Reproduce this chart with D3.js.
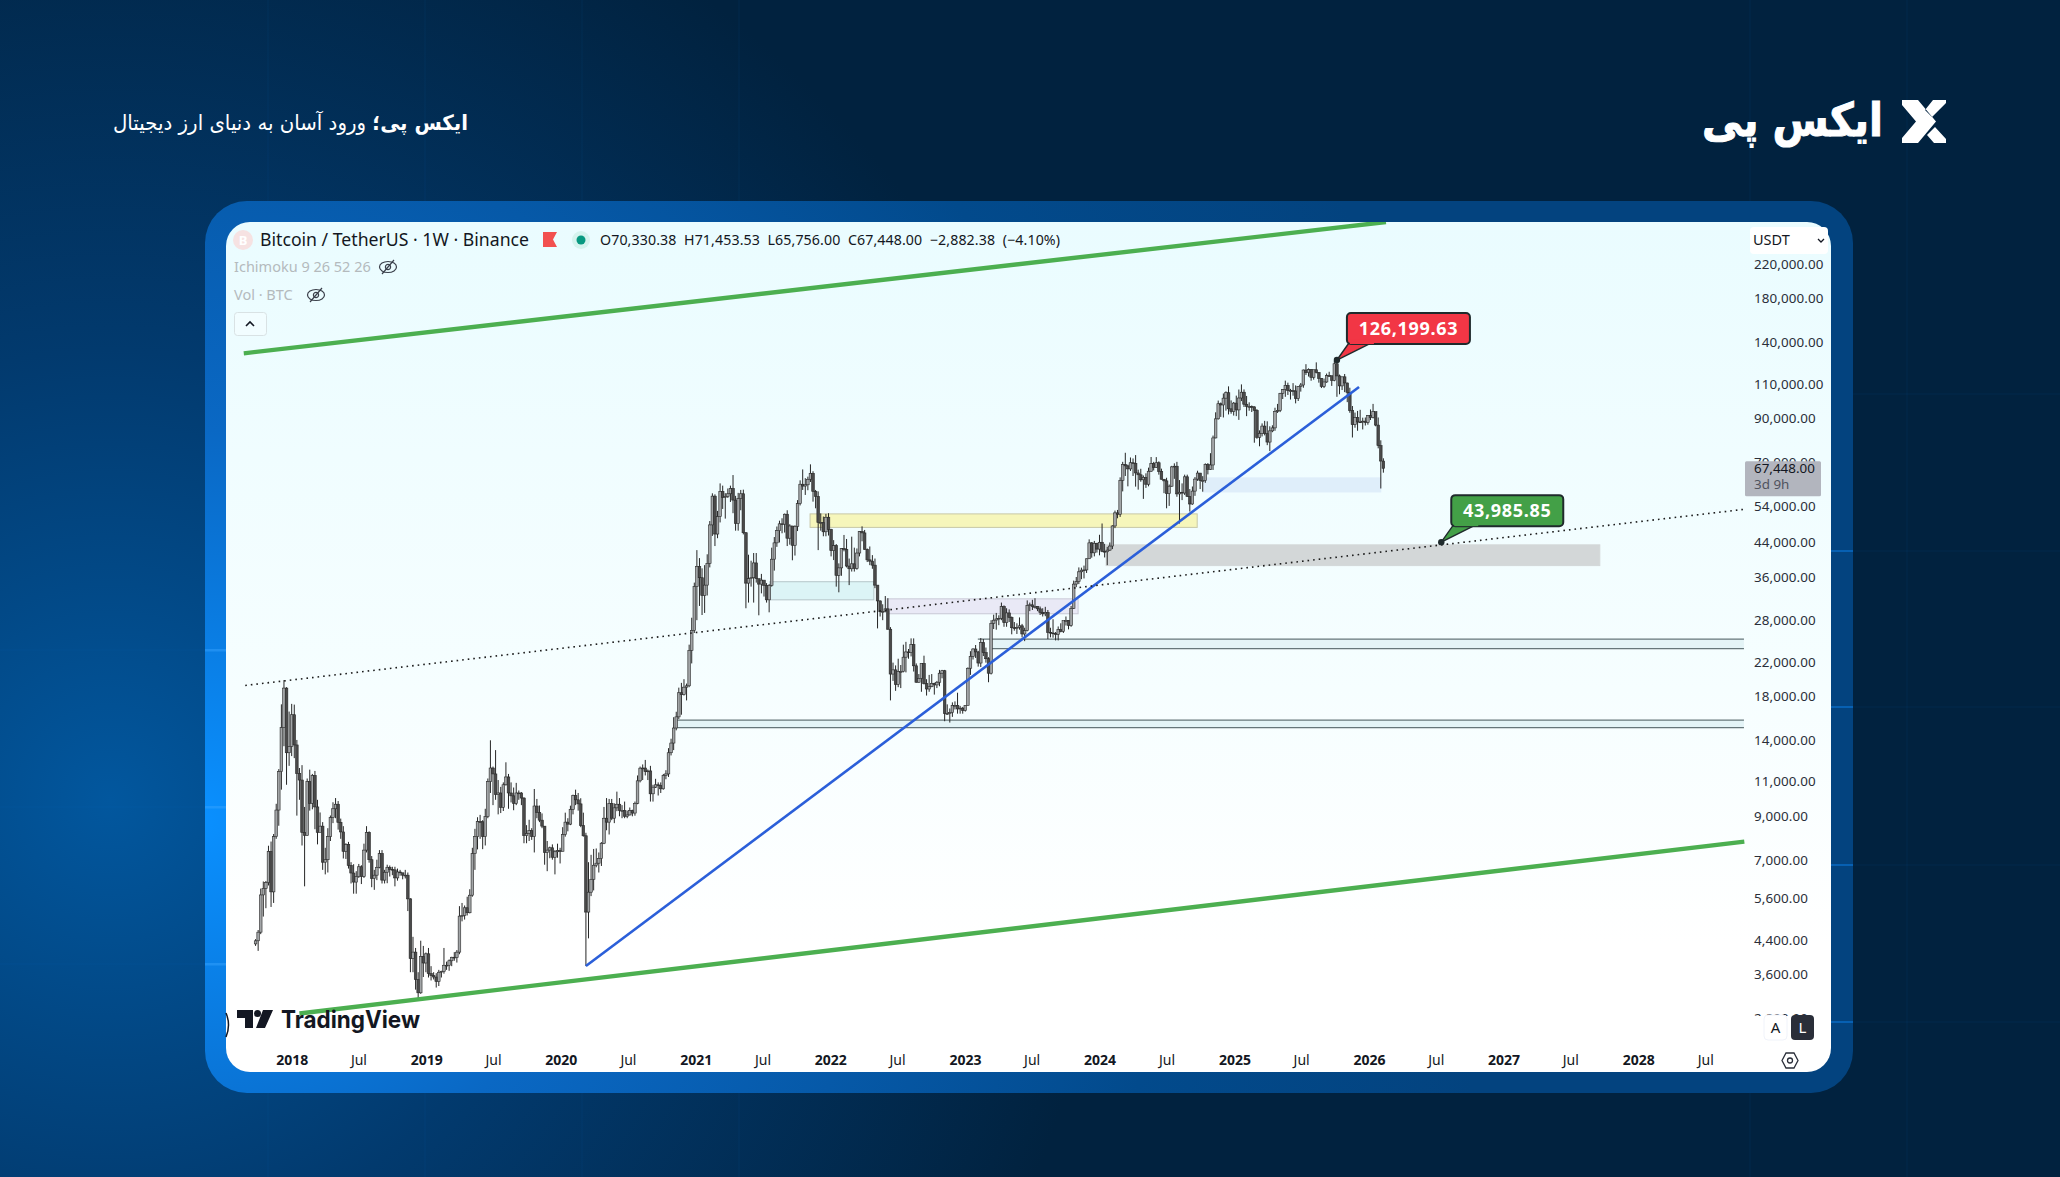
<!DOCTYPE html>
<html lang="fa">
<head>
<meta charset="UTF-8">
<title>Bitcoin / TetherUS 1W</title>
<script src="https://d3js.org/d3.v7.min.js"></script>
<style>
  html, body { margin: 0; padding: 0; background: #01223f; overflow: hidden; }
  svg { display: block; }
  text { font-family: "Noto Sans", sans-serif; }
  .y-axis text { font-size: 13.4px; fill: #2a2e39; letter-spacing: 0.1px; }
  .x-axis text { font-size: 14px; fill: #131722; }
  .x-axis text.year { font-weight: 700; }
  .y-axis path, .x-axis path { display: none; }
</style>
</head>
<body>
<div id="chart"></div>
<script>
// weekly bars as [high, low, close], each list starts on the monday in weekStarts
const w2017 = [[4420,4250,4378],[4660,4130,4602],[5922,4550,5709],[6171,5037,5930],[6189,5286,6130],[7590,6030,7345],[7776,5325,5811],[8123,5450,7999],[9675,7900,9330],[11825,8520,11650],[17204,10500,15034],[19798,13500,18900],[19000,10800,13000],[16500,12050,13480]];
const w2018 = [[17250,12750,16200],[17176,12600,13600],[14000,9035,11530],[11900,9900,11100],[12100,7600,8200],[9500,6000,8060],[11200,8050,11000],[11788,9300,9700],[11500,9370,11400],[11700,8350,9500],[9900,7650,8200],[9200,8250,8500],[8700,6600,6900],[7500,6430,7000],[8400,6500,8000],[9040,7800,8930],[9760,8650,9400],[10000,8900,9650],[9830,8330,8690],[8880,7900,8220],[8500,7050,7350],[7700,7030,7650],[7760,6650,6770],[6900,6100,6480],[6820,5750,6150],[6550,5750,6350],[6830,6300,6720],[6780,6080,6350],[7680,6300,7400],[8500,7300,8200],[8250,6880,7000],[7150,5970,6280],[6600,5880,6400],[7000,6220,6700],[7400,6660,7250],[7400,6100,6220],[6600,6100,6510],[6800,6110,6700],[6770,6350,6620],[6720,6400,6600],[6720,6000,6300],[6650,6200,6520],[6600,6380,6490],[6450,6250,6400],[6600,6280,6400],[6500,5200,5580],[5600,3650,3950],[4480,3650,4100],[4200,3300,3500],[3650,3130,3240],[4380,3220,4000],[4250,3550,3850]];
const w2019 = [[4090,3650,4060],[4200,3540,3620],[3780,3480,3580],[3650,3500,3550],[3630,3340,3460],[3700,3370,3650],[3680,3540,3670],[4200,3620,3800],[3880,3700,3800],[3930,3680,3900],[3990,3780,3980],[4100,3900,3970],[4150,3860,4100],[5350,4050,5050],[5450,4900,5070],[5370,4950,5300],[5650,5070,5150],[5900,5130,5700],[7500,5650,7250],[8370,6600,8000],[8950,7430,8730],[9074,7900,8720],[8800,7440,8000],[9400,7600,8980],[11200,8900,11000],[13970,10300,11900],[12000,9600,11500],[13200,9900,10200],[11100,9100,10300],[10670,9170,9480],[10950,9280,10800],[12300,10750,11300],[11500,9400,10300],[10950,9750,10130],[10630,9320,9700],[10920,9600,10300],[10450,9900,10300],[10350,9600,10000],[10050,7700,8050],[8550,7700,8150],[8820,7800,8280],[8400,7850,8000],[10540,7300,9550],[9950,8900,9200],[9580,8700,8800],[9150,8400,8500],[8500,6800,7300],[7800,6550,7400],[7550,7060,7500],[7650,7000,7100],[7400,6430,7330],[7680,7080,7380]];
const w2020 = [[7500,6850,7350],[8450,7350,8100],[9190,8000,8700],[8900,8250,8600],[9570,8550,9370],[10200,9100,10150],[10500,9600,9900],[10300,9300,9670],[9990,8450,8530],[9190,8000,8040],[8180,3782,5170],[6900,4440,5800],[7200,5670,6250],[7450,5860,6780],[7470,6700,6860],[7300,6500,7050],[7750,6750,7700],[9500,7660,8900],[10000,8300,8700],[9950,8100,9700],[9950,8800,8900],[9700,8650,9450],[10380,9270,9650],[10000,9000,9300],[9600,8900,9300],[9800,8900,9000],[9300,8900,9070],[9470,9040,9300],[9350,9000,9170],[9800,9030,9700],[11400,9650,11050],[12000,10950,11890],[12150,11100,11900],[12470,11400,11650],[11800,11100,11700],[12050,9800,10250],[10800,9800,10650],[11180,10600,10800],[10950,10150,10750],[10950,10300,10550],[11500,10500,11400],[11750,11150,11500],[13350,11300,13000],[14100,12800,13750],[15970,13200,15000],[16480,14800,16000],[18950,15800,18400],[19480,16200,18200],[19900,18100,19000],[19400,17600,19150],[24300,19000,23500],[28400,21800,26400]];
const w2021 = [[34800,26000,34000],[42000,28000,38200],[40100,30400,35800],[37800,28850,32300],[38500,29200,34300],[41000,32300,38900],[49700,38000,48600],[58350,45600,57400],[58000,43000,46100],[52700,45000,51000],[61800,49300,59000],[61000,53300,57000],[58400,50400,57300],[60000,56800,58200],[61000,55500,60000],[64850,52000,56100],[57500,47000,49000],[58500,47000,56600],[59500,52900,58200],[59600,46000,46450],[46600,30000,34700],[40900,31000,35600],[39500,34000,35800],[41300,31000,39000],[41300,34800,35600],[35500,28800,34500],[36600,32700,35300],[35100,32100,34250],[34700,31000,31500],[34500,29300,34250],[42600,34000,39850],[45300,37300,43800],[48150,42800,47000],[49800,43900,48900],[50500,46300,48800],[51900,46500,51700],[52900,43000,45000],[48800,43350,48300],[48000,39600,43200],[48500,40700,48200],[56100,46900,54950],[62900,54400,61500],[67000,59500,60850],[63700,57800,61300],[64250,59400,63300],[69000,62300,65500],[66300,55600,59000],[59500,53500,57300],[59000,42000,49300],[51950,47000,49300],[51000,45500,46700],[51800,45500,50800]];
const w2022 = [[52000,45700,47300],[47500,40500,41860],[44500,39650,43100],[43500,34000,36300],[38900,32900,37900],[42500,36200,42400],[45850,41700,42200],[44800,38000,38300],[40000,34300,37700],[45400,37100,38800],[42600,37100,37800],[42400,37500,41300],[46900,40500,46800],[48200,44200,46400],[47200,42100,42200],[42400,39200,39700],[42900,38500,39400],[40800,37700,38500],[40000,33700,34300],[34200,26700,31300],[31400,28600,29400],[30700,28000,29450],[32200,29300,29900],[31800,26500,26570],[26900,17600,20500],[21900,19700,21000],[21550,18600,19300],[22400,19000,20800],[21600,18900,20800],[24300,20700,22600],[24700,20700,23300],[23700,22400,23200],[25200,22700,24300],[25200,20800,21500],[21800,19500,19550],[20500,19500,20000],[21800,18500,21800],[22800,19300,19400],[19900,18100,18800],[20400,18500,19050],[20500,19000,19420],[19500,18200,19250],[19700,18900,19550],[21000,19100,20600],[21000,20000,20900],[21000,15600,16300],[17200,16200,16300],[16800,15480,16400],[17400,16000,17100],[17500,16700,17100],[18400,16300,16750],[17050,16300,16830]];
const w2023 = [[16950,16300,16600],[17100,16500,17100],[21300,17100,21200],[23400,20400,22700],[23800,22300,23700],[24250,22500,23300],[23450,21400,21850],[25250,21350,24600],[25100,22750,23200],[23900,21900,22400],[22600,19550,20600],[28000,20450,27500],[28900,26600,28000],[29200,26500,28200],[28800,27200,28300],[31000,28000,30300],[30500,26950,27600],[30000,26950,29200],[29800,27700,28450],[28600,25800,26800],[27700,26350,26750],[27500,25850,26850],[28450,26500,27100],[27400,25350,25850],[26800,24800,26350],[31400,26250,30500],[31000,29500,30600],[31500,29700,30300],[31800,29950,30300],[30350,29500,29900],[30300,28850,29300],[30000,28600,29050],[30250,28650,29280],[29700,25100,26100],[26800,25350,26000],[28150,25300,25900],[26150,24900,25800],[27000,24900,26500],[27500,26100,26250],[27300,26000,27950],[28600,27150,27950],[28000,26550,27150],[30400,26950,29990],[35200,29900,34500],[35950,33900,35000],[38000,34500,37050],[37950,35500,37400],[38400,35650,37450],[40000,36800,39950],[44700,39950,43800],[44000,40200,41350],[44300,40500,43700],[43800,41400,42250]];
const w2024 = [[45900,40750,43950],[49000,41500,41700],[43550,40250,41600],[42800,38500,42000],[43900,41800,43000],[48500,42250,48300],[52800,47700,52100],[53000,50500,51700],[64000,50900,62900],[70000,59000,68950],[73777,64500,68400],[68900,60750,67200],[71800,66400,69650],[71400,64500,69400],[72800,60650,65650],[66900,59600,64950],[67250,62400,63100],[64700,56500,64000],[65500,60200,61500],[67700,60750,66300],[72000,66100,69300],[70000,66600,67750],[71950,67600,69650],[70200,65000,66200],[67300,63200,63300],[63350,58400,62700],[63850,53500,58250],[61400,54250,60800],[68400,60600,68000],[69400,63450,68250],[70000,57200,58150],[63000,49000,58700],[61800,56100,58450],[65000,57800,64200],[65000,57200,57300],[59800,52500,54850],[60700,54600,59100],[64100,57500,63350],[66500,62700,65600],[65500,59800,62800],[64450,58900,62850],[69400,62000,69000],[69500,65100,67000],[73600,66800,68750],[81500,66800,80400],[93250,80200,89800],[99800,89400,98000],[98700,90800,97300],[104000,90500,101200],[105250,94150,104450],[108350,92100,95150],[99900,92500,93700]];
const w2025 = [[99000,91500,98350],[102700,91200,94550],[106400,89250,101300],[109600,99500,104750],[106450,96150,97700],[102500,91200,96450],[98800,94100,96450],[97000,93400,96250],[96500,78200,94250],[95000,80000,80700],[84000,76600,82550],[87450,81100,86100],[88750,81600,82400],[88500,77100,78500],[86000,74500,83750],[86500,83100,85200],[95750,83800,93750],[97900,92900,94300],[104350,93350,104100],[106700,100700,106450],[112000,102000,109000],[110700,103100,105700],[106800,100400,105700],[110400,102650,105500],[108950,98200,100950],[108500,99550,108350],[110500,105100,109200],[119450,107500,119100],[123200,115750,117300],[120250,114700,119400],[119800,111950,114200],[119300,112650,119300],[124500,116800,117400],[117650,110700,113500],[113650,107300,108300],[113350,107300,111150],[116700,110600,115300],[117900,114700,115250],[113900,108650,112150],[125700,111600,123500],[126199.63,102000,115100],[116000,103500,108650],[114600,106100,114500],[116400,104800,110500],[110700,98900,104700],[107500,93000,94150],[96700,80600,86800],[93100,85300,90400],[94000,83800,88200],[94600,87700,88150],[90400,84450,88600],[90500,86400,87950]];
const w2026 = [[91800,86800,91500],[94800,89200,90500],[97900,90000,93600],[93400,86000,86600],[90500,75700,76900],[79300,60000,70330.38],[71453.53,65756,67448]];

const weekStarts = ["2017-09-25","2018-01-01","2018-12-31","2019-12-30","2020-12-28","2021-12-27","2022-12-26","2024-01-01","2024-12-30","2025-12-29"];
const weekLists = [w2017,w2018,w2019,w2020,w2021,w2022,w2023,w2024,w2025,w2026];
const firstOpen = 4300;

const priceTicks = [220000,180000,140000,110000,90000,70000,54000,44000,36000,28000,22000,18000,14000,11000,9000,7000,5600,4400,3600,2800];
const timeTicks = ["2018-01-01","2018-07-01","2019-01-01","2019-07-01","2020-01-01","2020-07-01","2021-01-01","2021-07-01","2022-01-01","2022-07-01","2023-01-01","2023-07-01","2024-01-01","2024-07-01","2025-01-01","2025-07-01","2026-01-01","2026-07-01","2027-01-01","2027-07-01","2028-01-01","2028-07-01"];

// drawings: [start date, start price, end date, end price]
const greenLines = [["2017-08-24",131200,"2026-02-16",280500],["2018-01-22",2875,"2028-10-15",7775]];
const blueLine = ["2020-03-09",3782,"2025-12-05",108000];
const dottedLine = ["2017-08-28",19190,"2028-10-14",53180];
// zones: [from, to, top price, bottom price, fill, edge]
const zones = [
  ["2021-11-07","2024-09-22",51800,47900,"#f6f6bb","#c8c8a8"],
  ["2021-07-21","2022-04-29",34980,31500,"#dcf4f6","#b5c6c8"],
  ["2022-06-04","2023-11-04",31680,29060,"#e9e9f6","#c9c9d6"],
  ["2024-01-19","2027-09-19",43300,38400,"#d3d7d8","#d3d7d8"],
  ["2024-10-07","2026-02-02",63800,58800,"#dfeefa","#dfeefa"]
];
// levels: [top line from, top price, bottom line from, bottom price]
const levels = [["2023-02-05",25100,"2023-03-10",23740],["2020-11-08",15700,"2020-11-08",15030]];
const levelEnd = "2028-10-14";
const callouts = [
  {date: "2025-10-06", price: 126199.63, label: "126,199.63", fill: "#f23645", dx: 10, dy: -47},
  {date: "2026-07-16", price: 43985.85, label: "43,985.85", fill: "#43a047", dx: 10, dy: -47}
];
const lastPrice = 67448;

const W = 2060, H = 1177;
const day = s => new Date(s + "T00:00:00Z");

const x = d3.scaleUtc().domain([day("2018-01-01"), day("2026-01-01")]).range([291.7, 1369]);
const y = d3.scaleLog().domain([220000, 3600]).range([264, 974.6]);

// flatten the yearly lists into candles
let prevClose = firstOpen;
const bars = [];
weekLists.forEach((list, i) => {
  list.forEach((w, j) => {
    const t = new Date(day(weekStarts[i]).getTime() + j * 7 * 864e5);
    bars.push({t, o: prevClose, h: w[0], l: w[1], c: w[2]});
    prevClose = w[2];
  });
});

const svg = d3.select("#chart").append("svg").attr("width", W).attr("height", H);
const defs = svg.append("defs");

const glow = defs.append("radialGradient").attr("id", "bgGlow").attr("gradientUnits", "userSpaceOnUse")
  .attr("cx", 110).attr("cy", 800).attr("r", 1000);
glow.append("stop").attr("offset", 0).attr("stop-color", "#02579e");
glow.append("stop").attr("offset", 0.45).attr("stop-color", "#023a6e");
glow.append("stop").attr("offset", 1).attr("stop-color", "#01223f");

const frameGrad = defs.append("radialGradient").attr("id", "frameGrad").attr("gradientUnits", "userSpaceOnUse")
  .attr("cx", 200).attr("cy", 820).attr("r", 1300);
frameGrad.append("stop").attr("offset", 0).attr("stop-color", "#0a90ff");
frameGrad.append("stop").attr("offset", 0.3).attr("stop-color", "#0a68c4");
frameGrad.append("stop").attr("offset", 0.75).attr("stop-color", "#024a8c");
frameGrad.append("stop").attr("offset", 1).attr("stop-color", "#03437f");

const panelGrad = defs.append("linearGradient").attr("id", "panelGrad").attr("x1", 0).attr("y1", 0).attr("x2", 0).attr("y2", 1);
panelGrad.append("stop").attr("offset", 0).attr("stop-color", "#eafcff");
panelGrad.append("stop").attr("offset", 0.55).attr("stop-color", "#f6feff");
panelGrad.append("stop").attr("offset", 0.85).attr("stop-color", "#ffffff");

defs.append("clipPath").attr("id", "plotClip").append("rect").attr("x", 226).attr("y", 222).attr("width", 1520).attr("height", 820);
defs.append("clipPath").attr("id", "axisClip").append("rect").attr("x", 1740).attr("y", 254).attr("width", 90).attr("height", 762);

// background
svg.append("rect").attr("width", W).attr("height", H).attr("fill", "url(#bgGlow)");
const bgLines = svg.append("g").attr("stroke", "#2a7fd0").attr("stroke-opacity", 0.06).attr("stroke-width", 1.5);
[1750, 1907, 268, 425, 582, 739].forEach(v => bgLines.append("line").attr("x1", v).attr("x2", v).attr("y1", 0).attr("y2", H));
[394, 551, 707, 865, 1022].forEach(v => bgLines.append("line").attr("x1", 1040).attr("x2", W).attr("y1", v).attr("y2", v));
[650, 807, 964].forEach(v => bgLines.append("line").attr("x1", 0).attr("x2", 1040).attr("y1", v).attr("y2", v));

// frame and panel
svg.append("rect").attr("x", 205).attr("y", 201).attr("width", 1648).attr("height", 892).attr("rx", 42).attr("fill", "url(#frameGrad)");
[650, 807, 964].forEach(v => svg.append("rect").attr("x", 205).attr("y", v - 1).attr("width", 21).attr("height", 2.5).attr("fill", "#3aa4ff").attr("opacity", 0.45));
[551, 707, 865, 1022].forEach(v => svg.append("rect").attr("x", 1831).attr("y", v - 1).attr("width", 22).attr("height", 2).attr("fill", "#0a6cc8").attr("opacity", 0.7));
svg.append("rect").attr("x", 226).attr("y", 222).attr("width", 1605).attr("height", 850).attr("rx", 24).attr("fill", "url(#panelGrad)");

// headline and logo
svg.append("text").attr("x", 468).attr("y", 130).attr("direction", "rtl").attr("text-anchor", "start")
  .attr("fill", "#fff").style("font-family", "'DejaVu Sans'").attr("font-size", 21)
  .attr("textLength", 355).attr("lengthAdjust", "spacingAndGlyphs")
  .call(t => {
    t.append("tspan").attr("font-weight", 700).text("ایکس پی؛");
    t.append("tspan").text(" ورود آسان به دنیای ارز دیجیتال");
  });
svg.append("text").attr("x", 1883).attr("y", 136).attr("direction", "rtl").attr("text-anchor", "start")
  .attr("fill", "#fff").attr("stroke", "#fff").attr("stroke-width", 1).attr("font-weight", 700).style("font-family", "'DejaVu Sans'").attr("font-size", 46)
  .attr("textLength", 181).attr("lengthAdjust", "spacingAndGlyphs").text("ایکس پی");
svg.append("path").attr("fill", "#fff")
  .attr("d", "M1902 100L1918 100L1936 121.5L1918 143L1902 143L1902 138L1916 121.5L1902 105Z M1946 100L1933 100L1925 110L1932 117L1946 103Z M1946 143L1934 143L1927 135L1935 127L1946 139Z");

// zones and price levels
const plot = svg.append("g").attr("clip-path", "url(#plotClip)");
plot.append("g").selectAll("rect").data(zones).join("rect")
  .attr("x", d => x(day(d[0])))
  .attr("y", d => y(d[2]))
  .attr("width", d => x(day(d[1])) - x(day(d[0])))
  .attr("height", d => y(d[3]) - y(d[2]))
  .attr("fill", d => d[4])
  .attr("stroke", d => d[5]);
const levelG = plot.append("g").selectAll("g").data(levels).join("g");
levelG.append("rect")
  .attr("x", d => x(day(d[2])))
  .attr("y", d => y(d[1]))
  .attr("width", d => x(day(levelEnd)) - x(day(d[2])))
  .attr("height", d => y(d[3]) - y(d[1]))
  .attr("fill", "#e4f4f7");
levelG.selectAll("line").data(d => [[d[0], d[1]], [d[2], d[3]]]).join("line")
  .attr("x1", d => x(day(d[0])))
  .attr("x2", x(day(levelEnd)))
  .attr("y1", d => y(d[1]))
  .attr("y2", d => y(d[1]))
  .attr("stroke", "#66767a").attr("stroke-width", 1.3);

// candles
const candles = plot.append("g");
candles.selectAll("line").data(bars).join("line")
  .attr("x1", d => x(d.t)).attr("x2", d => x(d.t))
  .attr("y1", d => y(d.h)).attr("y2", d => y(d.l))
  .attr("stroke", "#262626").attr("stroke-width", 1);
candles.selectAll("rect").data(bars).join("rect")
  .attr("x", d => x(d.t) - 1.3)
  .attr("y", d => y(Math.max(d.o, d.c)))
  .attr("width", 2.6)
  .attr("height", d => Math.max(0.8, Math.abs(y(d.o) - y(d.c))))
  .attr("fill", d => d.c >= d.o ? "#a2a5a7" : "#4a4a4a")
  .attr("stroke", "#262626").attr("stroke-width", 0.6);

// trend lines
const trend = d => d3.line()([[x(day(d[0])), y(d[1])], [x(day(d[2])), y(d[3])]]);
plot.selectAll("path.green").data(greenLines).join("path").attr("class", "green")
  .attr("d", trend).attr("stroke", "#4caf50").attr("stroke-width", 4.4).attr("fill", "none");
plot.append("path").attr("d", trend(blueLine)).attr("stroke", "#2b5fd9").attr("stroke-width", 2.6).attr("fill", "none");
plot.append("path").attr("d", trend(dottedLine)).attr("stroke", "#1c1c1c").attr("stroke-width", 1.6)
  .attr("stroke-dasharray", "1.6 4").attr("fill", "none");

// callouts
callouts.forEach(c => {
  const px = x(day(c.date)), py = y(c.price);
  const bw = c.label.length > 9 ? 123 : 112;
  const g = svg.append("g").attr("transform", `translate(${px},${py})`);
  g.append("path").attr("d", `M0 0L${c.dx + 2} ${c.dy + 30}L${c.dx + 24} ${c.dy + 30}Z`)
    .attr("fill", c.fill).attr("stroke", "#1f2a2c").attr("stroke-width", 1.4);
  g.append("rect").attr("x", c.dx).attr("y", c.dy).attr("width", bw).attr("height", 31).attr("rx", 4)
    .attr("fill", c.fill).attr("stroke", "#1f2a2c").attr("stroke-width", 2);
  g.append("rect").attr("x", c.dx + 3).attr("y", c.dy + 26).attr("width", 24).attr("height", 5).attr("fill", c.fill);
  g.append("circle").attr("r", 3.2).attr("fill", "#1f2a2c");
  g.append("text").attr("x", c.dx + bw / 2).attr("y", c.dy + 21.5).attr("text-anchor", "middle")
    .attr("fill", "#fff").attr("font-weight", 700).attr("font-size", 18).attr("letter-spacing", 0.7).text(c.label);
});

// price axis, the outer group carries the clip so it stays in page coordinates
svg.append("g").attr("clip-path", "url(#axisClip)").append("g").attr("class", "y-axis")
  .attr("transform", "translate(1754,0)")
  .call(d3.axisRight(y).tickValues(priceTicks).tickSize(0).tickPadding(0).tickFormat(d3.format(",.2f")));

// time axis
svg.append("g").attr("class", "x-axis").attr("transform", "translate(0,1055)")
  .call(d3.axisBottom(x).tickValues(timeTicks.map(day)).tickSize(0).tickPadding(0)
    .tickFormat(d => d.getUTCMonth() === 0 ? String(d.getUTCFullYear()) : "Jul"))
  .selectAll("text").attr("class", d => d.getUTCMonth() === 0 ? "year" : null);

// currency box and last price tag
svg.append("rect").attr("x", 1750).attr("y", 227).attr("width", 78).attr("height", 27).attr("rx", 4).attr("fill", "#fff");
svg.append("text").attr("x", 1753).attr("y", 244.5).attr("font-size", 14.5).attr("fill", "#131722").text("USDT");
svg.append("path").attr("d", "M1818 239l3 3l3-3").attr("fill", "none").attr("stroke", "#131722").attr("stroke-width", 1.3);
svg.append("rect").attr("x", 1745).attr("y", y(lastPrice) - 7).attr("width", 76).attr("height", 35).attr("rx", 1.5).attr("fill", "#b2b5be");
svg.append("text").attr("x", 1754).attr("y", y(lastPrice) + 5).attr("font-size", 13.4).attr("fill", "#131722").text(d3.format(",.2f")(lastPrice));
svg.append("text").attr("x", 1754).attr("y", y(lastPrice) + 21).attr("font-size", 13.4).attr("fill", "#50535e").text("3d 9h");

// legend
svg.append("circle").attr("cx", 243).attr("cy", 240).attr("r", 10).attr("fill", "#f6e2e2");
svg.append("text").attr("x", 243).attr("y", 245).attr("text-anchor", "middle").attr("font-size", 13).attr("font-weight", 700).attr("fill", "#fff").text("B");
svg.append("text").attr("x", 260).attr("y", 246).attr("font-size", 17.8).attr("fill", "#131722").attr("textLength", 269).attr("lengthAdjust", "spacingAndGlyphs").text("Bitcoin / TetherUS · 1W · Binance");
svg.append("path").attr("d", "M543 232H557L553 239.5L557 247H543Z").attr("fill", "#f2504f");
svg.append("circle").attr("cx", 581).attr("cy", 240).attr("r", 9).attr("fill", "#d5f3ee");
svg.append("circle").attr("cx", 581).attr("cy", 240).attr("r", 4.5).attr("fill", "#089981");
svg.append("text").attr("x", 600).attr("y", 245).attr("font-size", 14.2).attr("fill", "#131722").attr("xml:space", "preserve")
  .text("O70,330.38  H71,453.53  L65,756.00  C67,448.00  −2,882.38  (−4.10%)").attr("textLength", 460);
svg.append("text").attr("x", 234).attr("y", 272).attr("font-size", 14.5).attr("fill", "#b4babd").text("Ichimoku 9 26 52 26");
svg.append("text").attr("x", 234).attr("y", 300).attr("font-size", 14.5).attr("fill", "#b4babd").text("Vol · BTC");
[[388, 267], [316, 295]].forEach(p => {
  const e = svg.append("g").attr("transform", `translate(${p[0]},${p[1]})`).attr("fill", "none").attr("stroke", "#3a3f4a").attr("stroke-width", 1.2);
  e.append("ellipse").attr("rx", 8.5).attr("ry", 5.5);
  e.append("circle").attr("r", 2.6);
  e.append("path").attr("d", "M-6 7L6 -7");
});
svg.append("rect").attr("x", 234.5).attr("y", 312.5).attr("width", 32).attr("height", 23).attr("rx", 3).attr("fill", "#f2fdff").attr("stroke", "#d9e2e4");
svg.append("path").attr("d", "M246 326l4-4l4 4").attr("fill", "none").attr("stroke", "#131722").attr("stroke-width", 1.6);

// TradingView mark
svg.append("path").attr("fill", "none").attr("stroke", "#131722").attr("stroke-width", 1.5).attr("d", "M226 1013Q231 1025 226 1037");
svg.append("path").attr("fill", "#131722").attr("d", "M237 1010H253V1028H245V1018H237Z M263 1010H273L265 1028H256Z");
svg.append("circle").attr("cx", 257.5).attr("cy", 1013.5).attr("r", 3.5).attr("fill", "#131722");
svg.append("text").attr("x", 281).attr("y", 1028).attr("font-size", 24).attr("font-weight", 700).attr("fill", "#131722")
  .style("font-family", "Inter").attr("textLength", 139).attr("lengthAdjust", "spacingAndGlyphs").text("TradingView");

// scale buttons and settings
svg.append("rect").attr("x", 1764).attr("y", 1015).attr("width", 23).attr("height", 25).attr("rx", 4).attr("fill", "#fff").attr("stroke", "#f0f3fa");
svg.append("text").attr("x", 1775.5).attr("y", 1033).attr("text-anchor", "middle").attr("font-size", 15).attr("fill", "#131722").text("A");
svg.append("rect").attr("x", 1791).attr("y", 1015).attr("width", 23).attr("height", 25).attr("rx", 4).attr("fill", "#2a2e39");
svg.append("text").attr("x", 1802.5).attr("y", 1033).attr("text-anchor", "middle").attr("font-size", 15).attr("fill", "#fff").text("L");
svg.append("path").attr("d", "M1782 1060.5l4-7.5h8l4 7.5l-4 7.5h-8Z").attr("fill", "none").attr("stroke", "#2a2e39").attr("stroke-width", 1.3);
svg.append("circle").attr("cx", 1790).attr("cy", 1060.5).attr("r", 2.5).attr("fill", "none").attr("stroke", "#2a2e39").attr("stroke-width", 1.3);
</script>
</body>
</html>
